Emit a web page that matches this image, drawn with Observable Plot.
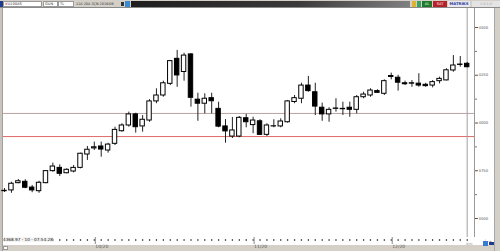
<!DOCTYPE html>
<html><head><meta charset="utf-8">
<script src="https://cdn.jsdelivr.net/npm/d3@7"></script>
<script src="https://cdn.jsdelivr.net/npm/@observablehq/plot@0.6"></script>
<style>
body{margin:0;width:500px;height:251px;position:relative;overflow:hidden;background:#d4d0c8;font-family:"DejaVu Sans",sans-serif}
.a{position:absolute}
.fld{position:absolute;top:1px;height:6px;background:#fff;border:1px solid #9a9a9a;box-sizing:border-box;font-size:3.6px;line-height:4px;color:#333;padding-left:1px;white-space:nowrap;overflow:hidden}
</style></head>
<body>
<div id="toolbar" class="a" style="left:0;top:0;width:500px;height:8px;background:#d4d0c8;border-bottom:1px solid #8a8a8a;box-sizing:border-box">
  <div class="a" style="left:0;top:1px;width:3px;height:6px;background:#1d3c8f"></div>
  <div class="fld" style="left:3px;width:39px"><span style="color:#c0282a">X</span>U100AS</div>
  <div class="fld" style="left:43px;width:15px">GÜN</div>
  <div class="fld" style="left:58px;width:16px">TL</div>
  <div class="a" style="left:76px;top:2px;font-size:3.4px;color:#333;white-space:nowrap">12A 20A 3ÇN 2019/06</div>
  <div class="a" style="left:121px;top:2px;width:3px;height:4px;background:#333"></div>
  <div class="a" style="left:125px;top:1px;width:5px;height:6px;background:#3a8ad0"></div>
  <div class="a" style="left:131px;top:1px;width:279px;height:6px;background:linear-gradient(90deg,#1e1e1e,#3a3a3a 60%,#808080)"></div>
  <div class="a" style="left:412px;top:1px;width:4px;height:6px;background:#e0b030"></div>
  <div class="a" style="left:417px;top:1px;width:4px;height:6px;background:#3aa060"></div>
  <div class="a" style="left:422px;top:1px;width:10px;height:6px;background:#1d7a2a;color:#fff;font-size:3.6px;line-height:6px;text-align:center">AL</div>
  <div class="a" style="left:433px;top:1px;width:14px;height:6px;background:#b5222a;color:#fff;font-size:3.6px;line-height:6px;text-align:center">SAT</div>
  <div class="a" style="left:448px;top:1px;width:22px;height:6px;background:#e8e8ee;color:#2a3a9a;font-size:3.8px;line-height:6px;text-align:center;font-weight:bold">MATRIKS</div>
  <div class="a" style="left:472px;top:1px;width:28px;height:6px;background:#e4e4e4;color:#aaa;font-size:3.4px;line-height:6px;text-align:center">1:0:1:0</div>
</div>
<div class="a" style="left:0;top:8px;width:3px;height:243px;background:#c8c4bc;border-right:1px solid #a0a0a0;box-sizing:border-box"></div>
<div id="chart" class="a" style="left:3px;top:8px;width:491px;height:237px;background:#fff"></div>
<div class="a" style="left:474px;top:8px;width:1px;height:229px;background:#9a9a9a"></div>
<div class="a" style="left:494px;top:8px;width:6px;height:243px;background:#d4d0c8;border-left:1px solid #a8a8a8;box-sizing:border-box"></div>
<div class="a" style="left:3px;top:237px;font-size:4.2px;color:#111;white-space:nowrap;background:#f4f4f4">4368.97 - 10 - 07:54:28</div>
<div class="a" style="left:466px;top:242px;font-size:3.4px;color:#888">4mi</div>
<div class="a" style="left:483px;top:241px;width:5px;height:5px;background:#3a7ad0"></div>
<div class="a" style="left:489px;top:242px;width:5px;height:3px;background:#1d3c8f"></div>
<div class="a" style="left:3px;top:246px;width:5px;height:4px;background:#fff;border:1px solid #999;box-sizing:border-box"></div>
<script>
// OHLC values, one per daily candle (Oct–Dec 2020)
const open  = [3643,3647,3685,3692,3662,3643,3685,3748,3765,3737,3746,3765,3835,3867,3877,3856,3891,3957,3987,4045,3982,4013,4113,4144,4205,4336,4267,4359,4122,4101,4130,4074,3982,3929,3929,4025,3989,4009,3938,3982,3982,4004,4110,4127,4196,4161,4080,4045,4074,4072,4080,4069,4135,4144,4167,4153,4241,4237,4208,4208,4206,4200,4196,4219,4223,4275,4304,4310];
const high  = [3657,3690,3704,3703,3673,3695,3751,3790,3781,3760,3777,3842,3877,3900,3900,3894,3978,3996,4057,4051,4039,4122,4179,4219,4327,4380,4365,4364,4156,4153,4156,4109,4018,4029,4034,4045,4030,4017,3996,4017,4022,4118,4144,4208,4244,4208,4104,4080,4127,4109,4109,4144,4161,4179,4174,4226,4261,4250,4219,4222,4258,4208,4222,4240,4284,4353,4348,4317];
const low   = [3636,3632,3682,3656,3635,3632,3682,3742,3720,3734,3739,3760,3804,3856,3821,3842,3882,3952,3978,3947,3952,4004,4101,4135,4196,4187,4219,4083,4009,4048,4048,3975,3894,3919,3923,3975,3944,3935,3929,3975,3975,3999,4101,4101,4161,4039,4009,4004,4057,4039,4030,4048,4127,4135,4156,4144,4226,4167,4196,4187,4187,4187,4184,4205,4221,4266,4292,4290];
const close = [3645,3682,3695,3661,3647,3687,3748,3772,3734,3755,3765,3839,3860,3873,3861,3887,3964,3987,4045,3978,4017,4113,4144,4208,4324,4249,4353,4132,4101,4127,4114,3981,3956,3961,4027,4004,4013,3938,3987,3983,4008,4113,4130,4196,4167,4086,4045,4069,4076,4074,4069,4135,4149,4170,4158,4219,4246,4211,4203,4206,4196,4193,4214,4231,4276,4301,4306,4292];
// month tick labels (candle index where each month starts)
const monthTicks  = [13, 36, 56];
const monthLabels = ["10/20", "11/20", "12/20"];
// price axis
const yTicks = [3500, 3750, 4000, 4250, 4500];
const yMinor = [3625, 3875, 4125, 4375];
// horizontal level lines
const levels = [4050, 3929];
const levelColors = ["#b9a3a3", "#e06a6a"];

const candles = open.map((o, i) => ({i, open: o, high: high[i], low: low[i], close: close[i], up: close[i] >= o}));
const lab = new Map(monthTicks.map((t, k) => [t, monthLabels[k]]));
const lvl = levels.map((v, k) => ({v, c: levelColors[k]}));
const W = 0.32;

const chart = Plot.plot({
  width: 491, height: 237,
  marginLeft: 0, marginRight: 20, marginTop: 0, marginBottom: 8,
  style: {background: "transparent", fontFamily: "DejaVu Sans", color: "#444", overflow: "visible"},
  x: {type: "linear", domain: [-0.15, 68.06]},
  y: {domain: [3400.5, 4599.5]},
  marks: [
    Plot.ruleY(lvl, {y: "v", stroke: "c", strokeWidth: 1}),
    Plot.ruleX([candles.length - 1], {stroke: "#a0a0a0"}),
    Plot.ruleX(candles, {x: "i", y1: "low", y2: "high", stroke: "#222", strokeWidth: 1}),
    Plot.rect(candles, {x1: d => d.i - W, x2: d => d.i + W, y1: "open", y2: "close",
      fill: d => d.up ? "#fff" : "#000", stroke: "#000", strokeWidth: 1}),
    Plot.axisY({anchor: "right", ticks: yTicks, tickSize: 3, tickPadding: 1, fontSize: 3.8,
      tickFormat: d => String(d), stroke: "#555", fill: "#555"}),
    Plot.axisY({anchor: "right", ticks: yMinor, tickSize: 2, stroke: "#777", fill: "none"}),
    Plot.dot(candles, {x: "i", frameAnchor: "bottom", dy: 2.5, r: 0.75, fill: "#000", stroke: "none"}),
    Plot.axisX({anchor: "bottom", ticks: monthTicks, tickSize: 7, tickPadding: 0, dy: 0,
      tickFormat: d => lab.get(d), textAnchor: "start", dx: 1, fontSize: 4.5, stroke: "#888", fill: "#555"})
  ]
});
document.getElementById("chart").appendChild(chart);
</script>
</body></html>
